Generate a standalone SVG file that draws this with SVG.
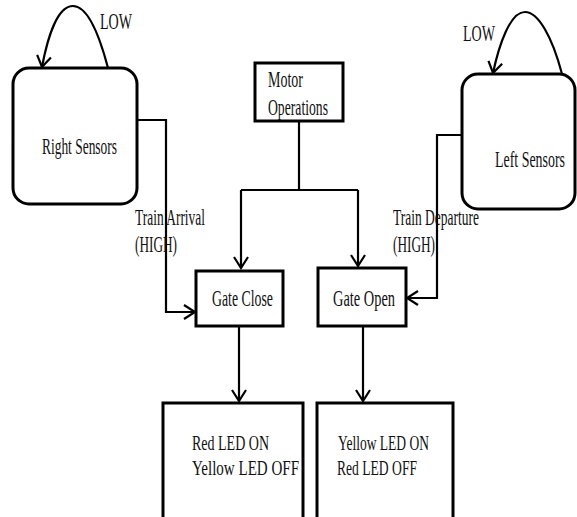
<svg xmlns="http://www.w3.org/2000/svg" width="577" height="517" viewBox="0 0 577 517">
<defs>
<style>
.box{fill:#fff;stroke:#000;stroke-width:3}
.ln{fill:none;stroke:#000;stroke-width:2.2}
.t{font-family:"Liberation Serif","Times New Roman",serif;font-size:24px;fill:#111}
.s{font-size:21px}
</style>
<marker id="ah" markerWidth="14" markerHeight="16" refX="12" refY="8" orient="auto" markerUnits="userSpaceOnUse">
<path d="M1,1 L12,8 L1,15" fill="none" stroke="#000" stroke-width="2.2"/>
</marker>
</defs>
<rect width="577" height="517" fill="#fff"/>
<g id="right-sensors">
<rect class="box" x="13" y="68" width="124" height="136" rx="16"/>
<text class="t" x="42" y="154" textLength="75" lengthAdjust="spacingAndGlyphs">Right Sensors</text>
</g>
<g id="left-sensors">
<rect class="box" x="462" y="74" width="113" height="135" rx="16"/>
<text class="t" transform="translate(495,167) scale(0.58,1)" x="0" y="0">Left Sensors</text>
</g>
<g id="motor">
<rect class="box" x="255" y="63" width="88" height="58"/>
<text class="t" x="268" y="87" textLength="35" lengthAdjust="spacingAndGlyphs">Motor</text>
<text class="t" x="268" y="115" textLength="60" lengthAdjust="spacingAndGlyphs">Operations</text>
</g>
<g id="gate-close">
<rect class="box" x="196" y="271" width="87" height="55"/>
<text class="t" x="212" y="306" textLength="61" lengthAdjust="spacingAndGlyphs">Gate Close</text>
</g>
<g id="gate-open">
<rect class="box" x="318" y="268" width="88" height="58"/>
<text class="t" x="333" y="306" textLength="62" lengthAdjust="spacingAndGlyphs">Gate Open</text>
</g>
<g id="red-on">
<rect class="box" x="163" y="403" width="140" height="130"/>
<text class="t s" x="192" y="450" textLength="77" lengthAdjust="spacingAndGlyphs">Red LED ON</text>
<text class="t s" x="192" y="475" textLength="107" lengthAdjust="spacingAndGlyphs">Yellow LED OFF</text>
</g>
<g id="yellow-on">
<rect class="box" x="317" y="403" width="136" height="130"/>
<text class="t s" x="338" y="450" textLength="91" lengthAdjust="spacingAndGlyphs">Yellow LED ON</text>
<text class="t s" x="337" y="475" textLength="80" lengthAdjust="spacingAndGlyphs">Red LED OFF</text>
</g>
<g id="connectors">
<path class="ln" d="M108,68 C98,30 86,6 73,6 C58,6 48,35 42,67" marker-end="url(#ah)"/>
<path class="ln" d="M562,74 C552,36 538,12 525,12 C510,12 499,45 493,73" marker-end="url(#ah)"/>
<path class="ln" d="M137,120 H166 V312 H195" marker-end="url(#ah)"/>
<path class="ln" d="M462,135 H437 V298 H407" marker-end="url(#ah)"/>
<path class="ln" d="M299,121 V190"/>
<path class="ln" d="M241,190 H358"/>
<path class="ln" d="M241,190 V268" marker-end="url(#ah)"/>
<path class="ln" d="M358,190 V266" marker-end="url(#ah)"/>
<path class="ln" d="M239,326 V401" marker-end="url(#ah)"/>
<path class="ln" d="M363,326 V401" marker-end="url(#ah)"/>
</g>
<g id="labels">
<text class="t" x="100" y="29" textLength="32" lengthAdjust="spacingAndGlyphs">LOW</text>
<text class="t" x="463" y="41" textLength="32" lengthAdjust="spacingAndGlyphs">LOW</text>
<text class="t" x="135" y="225" textLength="70" lengthAdjust="spacingAndGlyphs">Train Arrival</text>
<text class="t" x="135" y="252" textLength="42" lengthAdjust="spacingAndGlyphs">(HIGH)</text>
<text class="t" x="393" y="225" textLength="86" lengthAdjust="spacingAndGlyphs">Train Departure</text>
<text class="t" x="393" y="252" textLength="42" lengthAdjust="spacingAndGlyphs">(HIGH)</text>
</g>
</svg>
